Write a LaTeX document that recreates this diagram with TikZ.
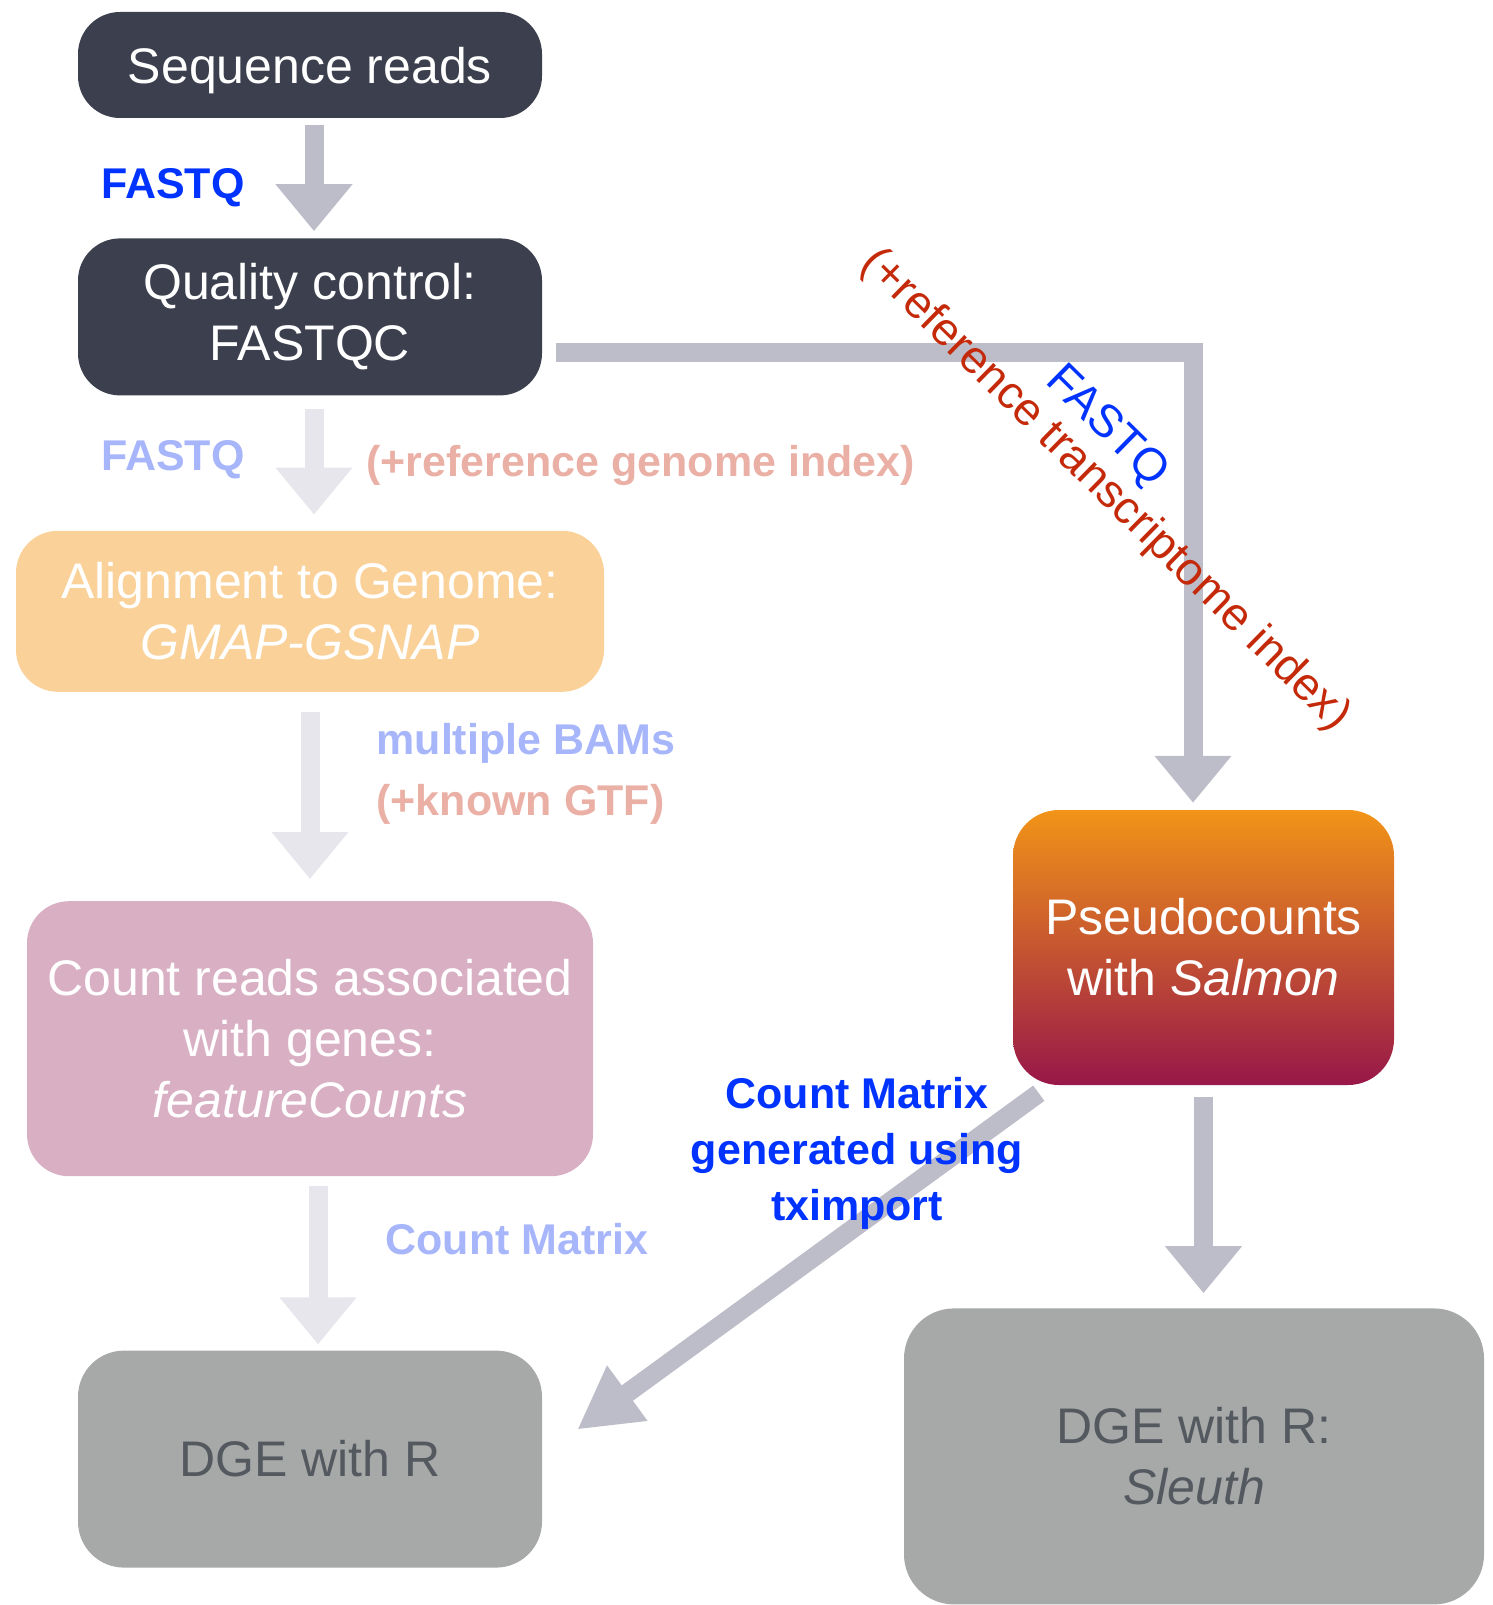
\documentclass[tikz,border=0pt]{standalone}
\usepackage{fontspec}
\setmainfont{Liberation Sans}
\usetikzlibrary{positioning,arrows.meta}

\definecolor{darkbox}{HTML}{3C404E}
\definecolor{arrowgray}{HTML}{BDBDCA}
\definecolor{arrowlight}{HTML}{E6E6EC}
\definecolor{fqblue}{HTML}{0033FF}
\definecolor{paleblue}{HTML}{A7B5FB}
\definecolor{palered}{HTML}{EBB0A5}
\definecolor{trred}{HTML}{C42A0A}
\definecolor{alignfill}{HTML}{F9D199}
\definecolor{countfill}{HTML}{D9AFC3}
\definecolor{dgegray}{HTML}{A6A9A8}
\definecolor{dgetext}{HTML}{545960}
\definecolor{salmtop}{HTML}{F29418}
\definecolor{salmbot}{HTML}{981749}

\tikzset{
  box/.style={rectangle, rounded corners=42pt, minimum width=464pt, inner sep=0pt, align=center, font=\fontsize{50}{61}\selectfont},
  flow/.style={line width=19pt, draw=arrowgray, -{Triangle[length=47pt,width=74pt]}},
  faint/.style={flow, draw=arrowlight},
  lbl/.style={font=\bfseries\fontsize{43}{56}\selectfont},
  tilted/.style={rotate=-44.5, font=\fontsize{46}{56}\selectfont},
}

\begin{document}
\begin{tikzpicture}[x=1pt, y=-1pt]
    \useasboundingbox (0,0) rectangle (1492,1605);

    % left column
    \node [box, fill=darkbox, text=white, text depth=0pt, minimum height=106pt] (seq) at (310,65) {Sequence reads};
    \node [box, fill=darkbox, text=white, minimum height=157pt, below=120pt of seq] (qc) {Quality control:\\FASTQC\rule[-8pt]{0pt}{0pt}};
    \node [box, fill=alignfill, text=white, minimum width=588pt, minimum height=161pt, below=135pt of qc] (align) {Alignment to Genome:\\\textit{GMAP-GSNAP}};
    \node [box, fill=countfill, text=white, minimum width=566pt, minimum height=275pt, below=209pt of align] (count) {Count reads associated\\with genes:\\\textit{featureCounts}};
    \node [box, fill=dgegray, text=dgetext, rounded corners=46pt, minimum height=217pt, below=174pt of count] (dge) {DGE with R};

    % right column
    \node [box, top color=salmtop, bottom color=salmbot, text=white, rounded corners=46pt, minimum width=381pt, minimum height=275pt] (pseudo) at (1203.5,947.5) {Pseudocounts\\with \textit{Salmon}};
    \node [box, fill=dgegray, text=dgetext, rounded corners=50pt, minimum width=580pt, minimum height=296pt, below=223pt of pseudo, xshift=-9.5pt] (sleuth) {DGE with R:\\\textit{Sleuth}};

    \draw [flow, shorten <=7pt, shorten >=7pt] ([xshift=4pt]seq.south) -- ([xshift=4pt]qc.north);
    \draw [faint, shorten <=13pt, shorten >=16pt] ([xshift=4pt]qc.south) -- ([xshift=4pt]qc.south |- align.north);
    \draw [faint, shorten <=20pt, shorten >=22pt] (align.south) -- (align.south |- count.north);
    \draw [faint, shorten <=10pt, shorten >=6pt] ([xshift=8pt]count.south) -- ([xshift=8pt]count.south |- dge.north);
    \draw [flow, shorten <=14pt, shorten >=7pt] ([yshift=-36pt]qc.east) -| ([xshift=-10.5pt]pseudo.north);
    \draw [flow, shorten <=12pt, shorten >=15pt] (pseudo.south) -- (pseudo.south |- sleuth.north);
    \draw [flow, -{Triangle[length=62pt,width=64pt]}] ([xshift=26pt,yshift=-8pt]pseudo.south west) -- ([xshift=35pt,yshift=29.5pt]dge.east);

    % labels
    \node [lbl, text=fqblue, anchor=base east] (fq1) at (248,199) {FASTQ};
    \node [lbl, text=paleblue, anchor=base east] (fq2) at (248,470) {FASTQ};
    \node [lbl, text=palered, anchor=base west] (genidx) at (363,476) {(+reference genome index)};
    \node [lbl, text=paleblue, anchor=base west] (bams) at (373,754) {multiple BAMs};
    \node [lbl, text=palered, anchor=base west] (gtf) at (373,815) {(+known GTF)};
    \node [lbl, text=paleblue, anchor=base west] (cm) at (382,1254) {Count Matrix};
    \node [lbl, text=fqblue, align=center] (txi) at (857,1153) {Count Matrix\\generated using\\tximport};
    \node [tilted, text=trred] (tridx) at (1105,490) {(+reference transcriptome index)};
    \node [tilted, text=fqblue] (fq3) at (1106,427) {FASTQ};
\end{tikzpicture}
\end{document}
